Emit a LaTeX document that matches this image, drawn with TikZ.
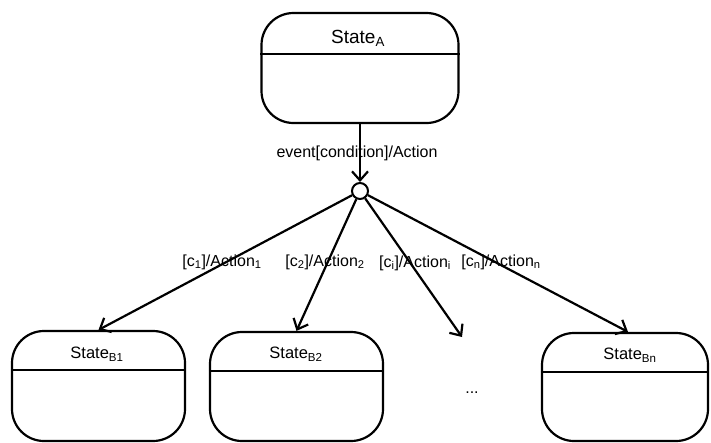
\documentclass[tikz,border=0pt]{standalone}
\usepackage{fontspec}
\setmainfont{Liberation Sans}
\usetikzlibrary{arrows.meta}
\begin{document}
\begin{tikzpicture}[x=1pt,y=-1pt,
 statebox/.style={draw, line width=2.2pt, rounded corners=32pt, inner sep=0pt},
 divider/.style={line width=2.2pt},
 lbl/.style={font=\fontsize{16}{18}\selectfont, inner sep=0pt},
 titleA/.style={font=\fontsize{19}{22}\selectfont, inner sep=0pt},
 titleB/.style={font=\fontsize{16.5}{19}\selectfont, inner sep=0pt},
 conn/.style={line width=2.2pt, -{Straight Barb[length=9pt,width=16pt,line width=2.2pt]}}]
\useasboundingbox (0,0) rectangle (711,442);
% top state
\node[statebox, minimum width=197pt, minimum height=110pt] (A) at (360,68) {};
\draw[divider] ([yshift=-42pt]A.north west) -- ([yshift=-42pt]A.north east);
\node[titleA] (tA) at (358,38) {State\textsubscript{A}};
% junction
\node[draw, circle, line width=2pt, minimum size=16pt, inner sep=0pt] (j) at (360,191) {};
\draw[conn] (A.south) -- (j.north);
\node[lbl] (ev) at (357,153) {event[condition]/Action};
% bottom states
\node[statebox, minimum width=173pt, minimum height=110pt] (B1) at (98.5,386) {};
\draw[divider] ([yshift=-40pt]B1.north west) -- ([yshift=-40pt]B1.north east);
\node[titleB] (tB1) at (97,354) {State\textsubscript{B1}};
\node[statebox, minimum width=173pt, minimum height=109pt] (B2) at (296.5,386.5) {};
\draw[divider] ([yshift=-40pt]B2.north west) -- ([yshift=-40pt]B2.north east);
\node[titleB] (tB2) at (296,354) {State\textsubscript{B2}};
\node[statebox, minimum width=166pt, minimum height=108pt] (Bn) at (625,387) {};
\draw[divider] ([yshift=-40pt]Bn.north west) -- ([yshift=-40pt]Bn.north east);
\node[titleB] (tBn) at (630,355) {State\textsubscript{Bn}};
\node[lbl] (dots) at (472,393) {...};
\coordinate (di) at (462,337);
% transitions
\draw[conn] (j) -- (B1.north);
\draw[conn] (j) -- (B2.north);
\draw[conn] (j) -- (di);
\draw[conn] (j) -- ([xshift=3pt]Bn.north);
\node[lbl] (l1) at (222,262) {[c\textsubscript{1}]/Action\textsubscript{1}};
\node[lbl] (l2) at (325,262) {[c\textsubscript{2}]/Action\textsubscript{2}};
\node[lbl] (li) at (415,263) {[c\textsubscript{i}]/Action\textsubscript{i}};
\node[lbl] (ln) at (501,262) {[c\textsubscript{n}]/Action\textsubscript{n}};
\end{tikzpicture}
\end{document}
